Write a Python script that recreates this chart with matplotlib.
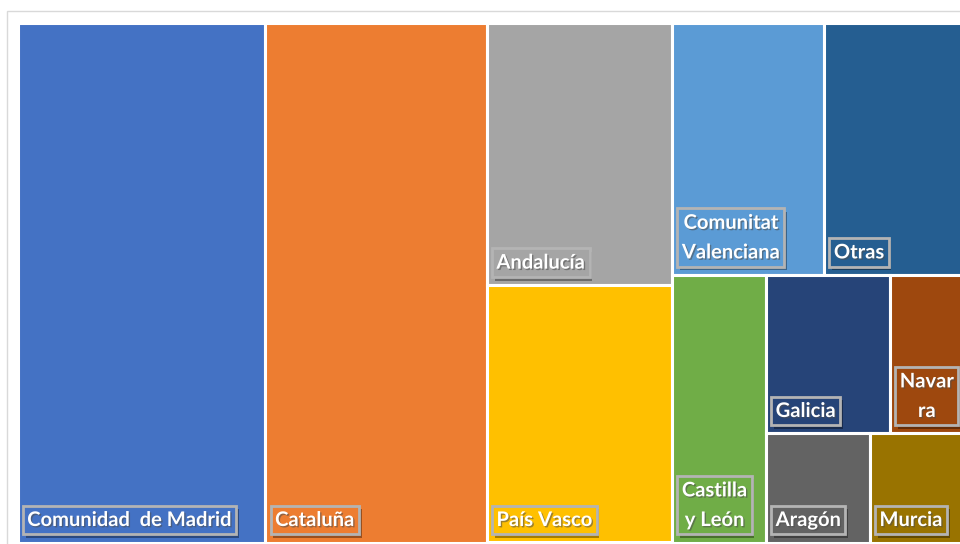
import matplotlib
matplotlib.use("Agg")
import matplotlib.pyplot as plt
import matplotlib.patches as mpatches
import matplotlib.patheffects as pe

# datos (porcentaje por comunidad)
regiones = ["Comunidad  de Madrid", "Cataluña", "Andalucía", "País Vasco",
            "Comunitat\nValenciana", "Otras", "Castilla\ny León", "Galicia",
            "Navar\nra", "Aragón", "Murcia"]
valores = [26.2, 23.4, 9.9, 9.7, 7.8, 7.2, 5.1, 4.0, 2.4, 2.3, 2.1]
colores = ["#4472C4", "#ED7D31", "#A5A5A5", "#FFC000", "#5B9BD5", "#255E91",
           "#70AD47", "#264478", "#9E480E", "#636363", "#997300"]

# estructura del treemap: 'h' = lado a lado, 'v' = de arriba a abajo
arbol = ('h', [0, 1, ('v', [2, 3]),
               ('v', [('h', [4, 5]),
                      ('h', [6, ('v', [('h', [7, 8]), ('h', [9, 10])])])])])


def total(nodo):
    if isinstance(nodo, int):
        return valores[nodo]
    return sum(total(n) for n in nodo[1])


def colocar(nodo, x, y, w, h, salida):
    # y es el borde superior, se baja hacia abajo
    if isinstance(nodo, int):
        salida.append((nodo, x, y - h, w, h))
        return
    modo, hijos = nodo
    suma = total(nodo)
    for hijo in hijos:
        f = total(hijo) / suma
        if modo == 'h':
            colocar(hijo, x, y, w * f, h, salida)
            x += w * f
        else:
            colocar(hijo, x, y, w, h * f, salida)
            y -= h * f


rects = []
colocar(arbol, 0.0, 1.0, 1.0, 1.0, rects)

fig = plt.figure(figsize=(9.6, 5.44), dpi=100)
# marco gris claro del grafico
fig.patches.append(mpatches.Rectangle((7 / 960, -0.1), 1.0, (544 - 11) / 544 + 0.1,
                                      transform=fig.transFigure, fill=False,
                                      ec="#d9d9d9", lw=1))

ax = fig.add_axes([17.5 / 960, 1.5 / 544, 947 / 960, 520 / 544])
ax.set_xlim(0, 1)
ax.set_ylim(0, 1)
ax.axis("off")

for i, x0, y0, w, h in rects:
    ax.add_patch(mpatches.Rectangle((x0, y0), w, h, fc=colores[i],
                                    ec="white", lw=2.2))
    t = ax.annotate(regiones[i], xy=(x0, y0), xytext=(7, 9),
                    textcoords="offset points", ha="left", va="bottom",
                    multialignment="center",
                    color="white", fontsize=14.5, fontweight="bold",
                    family=["Lato", "DejaVu Sans"], linespacing=1.6,
                    bbox=dict(boxstyle="square,pad=0.22", fc=colores[i],
                              ec="#b4b4b4", lw=2))
    t.set_path_effects([pe.withSimplePatchShadow(offset=(1, -1), alpha=0.55)])
    t.get_bbox_patch().set_path_effects([
        pe.SimplePatchShadow(offset=(2, -2.5), alpha=0.5), pe.Normal()])

fig.savefig("out.png", dpi=100)
